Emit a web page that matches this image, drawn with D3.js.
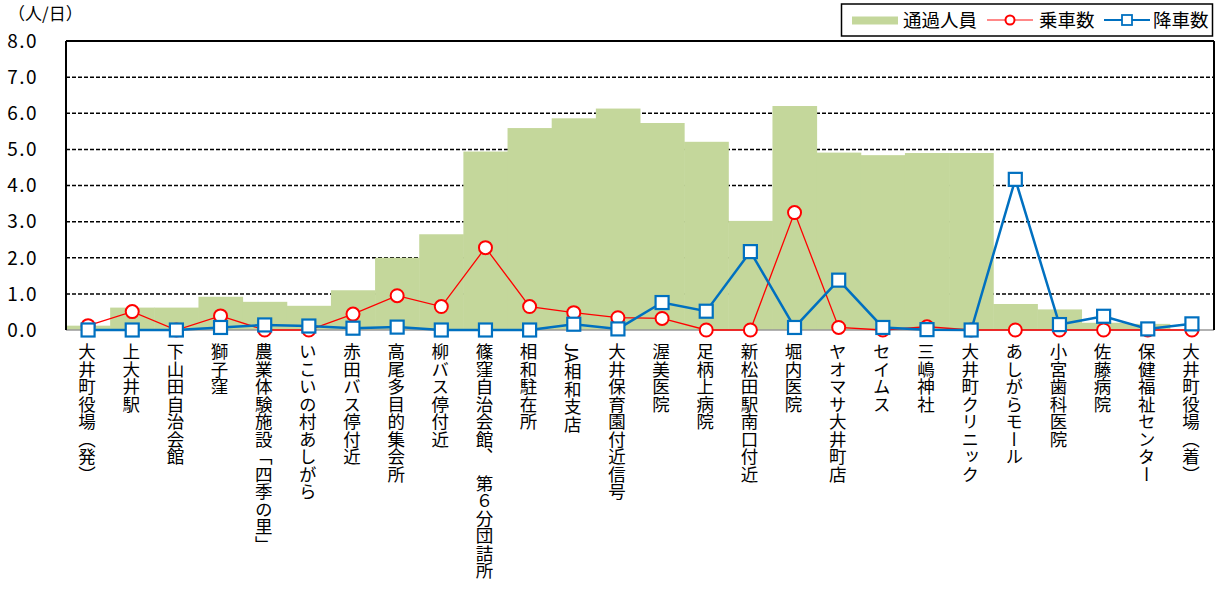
<!DOCTYPE html>
<html><head><meta charset="utf-8">
<script src="https://cdn.jsdelivr.net/npm/d3@7"></script>
<style>
html,body{margin:0;padding:0;background:#fff;}
svg{display:block;font-family:"Noto Sans CJK JP","Noto Sans",sans-serif;}
</style></head>
<body><svg id="c" width="1218" height="592"></svg>
<script>
const categories = ["大井町役場（発）","上大井駅","下山田自治会館","獅子窪","農業体験施設「四季の里」","いこいの村あしがら","赤田バス停付近","高尾多目的集会所","柳バス停付近","篠窪自治会館、　第６分団詰所","相和駐在所","JA相和支店","大井保育園付近信号","渥美医院","足柄上病院","新松田駅南口付近","堀内医院","ヤオマサ大井町店","セイムス","三嶋神社","大井町クリニック","あしがらモール","小宮歯科医院","佐藤病院","保健福祉センター","大井町役場（着）"];
const passengers = [0.12,0.62,0.62,0.92,0.78,0.67,1.1,2.0,2.65,4.94,5.59,5.86,6.13,5.73,5.21,3.02,6.2,4.91,4.84,4.9,4.9,0.72,0.57,0.2,0.17,0];
const boarding   = [0.12,0.51,0,0.39,0,0,0.44,0.95,0.65,2.28,0.65,0.48,0.34,0.32,0,0,3.25,0.07,0,0.09,0,0,0,0,0,0];
const alighting  = [0,0,0,0.07,0.14,0.11,0.05,0.08,0,0,0,0.16,0.03,0.76,0.52,2.17,0.07,1.38,0.07,0.01,0,4.17,0.15,0.38,0.03,0.17];
const yTicks = [0,1,2,3,4,5,6,7,8];
const legendLabels = ["通過人員","乗車数","降車数"];
const unitLabel = "（人/日）";

const GREEN="#C4D79B", RED="#FF0000", BLUE="#0070C0";
const svg = d3.select("#c");
const L=66, R=1214, T=41, B=330;
const x = d3.scaleBand().domain(categories).range([L,R]).padding(0);
const y = d3.scaleLinear().domain([0,8]).range([B,T]);
const cx = d => x(d)+x.bandwidth()/2;

// gridlines
svg.append("g").selectAll("line").data(yTicks.filter(t=>t>0&&t<8)).join("line")
  .attr("x1",L).attr("x2",R).attr("y1",d=>y(d)).attr("y2",d=>y(d))
  .attr("stroke","#000").attr("stroke-width",1.5).attr("stroke-dasharray","4,2");

// bars (area)
svg.append("g").selectAll("rect").data(categories).join("rect")
  .attr("x",d=>x(d)).attr("width",x.bandwidth()+0.5)
  .attr("y",(d,i)=>y(passengers[i])).attr("height",(d,i)=>B-y(passengers[i]))
  .attr("fill",GREEN);

// frame
svg.append("line").attr("x1",L).attr("x2",R).attr("y1",B).attr("y2",B).attr("stroke","#999").attr("stroke-width",1.5);
svg.append("line").attr("x1",L).attr("x2",R).attr("y1",T).attr("y2",T).attr("stroke","#000").attr("stroke-width",2);
svg.append("line").attr("x1",R).attr("x2",R).attr("y1",T).attr("y2",B).attr("stroke","#000").attr("stroke-width",2);
svg.append("line").attr("x1",L).attr("x2",L).attr("y1",T).attr("y2",B).attr("stroke","#000").attr("stroke-width",2);

// y labels
svg.append("g").selectAll("text").data(yTicks).join("text")
  .attr("x",38).attr("y",d=>y(d)).attr("dy","0.36em").attr("text-anchor","end")
  .attr("font-size",19).attr("letter-spacing",1.5).text(d=>d.toFixed(1));
svg.append("text").attr("x",8).attr("y",20).attr("font-size",17).text(unitLabel);

// red line
const line = d3.line().x((d,i)=>cx(categories[i])).y(d=>y(d));
svg.append("path").datum(boarding).attr("d",line).attr("fill","none").attr("stroke",RED).attr("stroke-width",1.3);
svg.append("g").selectAll("circle").data(boarding).join("circle")
  .attr("cx",(d,i)=>cx(categories[i])).attr("cy",d=>y(d)).attr("r",6.5)
  .attr("fill","#fff").attr("stroke",RED).attr("stroke-width",2);
// blue line
svg.append("path").datum(alighting).attr("d",line).attr("fill","none").attr("stroke",BLUE).attr("stroke-width",2.5);
svg.append("g").selectAll("rect").data(alighting).join("rect")
  .attr("x",(d,i)=>cx(categories[i])-6.5).attr("y",d=>y(d)-6.5).attr("width",13).attr("height",13)
  .attr("fill","#fff").attr("stroke",BLUE).attr("stroke-width",2.2);

// x labels (vertical)
svg.append("g").selectAll("text").data(categories).join("text")
  .attr("x",d=>cx(d)-1).attr("y",343)
  .attr("font-size",17.5)
  .style("writing-mode","vertical-rl").style("text-orientation","mixed")
  .text(d=>d);

// legend
const lg = svg.append("g");
lg.append("rect").attr("x",841.5).attr("y",4).attr("width",371).attr("height",32).attr("fill","#fff").attr("stroke","#000").attr("stroke-width",1.5);
lg.append("rect").attr("x",852).attr("y",16.5).attr("width",46).attr("height",8).attr("fill",GREEN);
lg.append("text").attr("x",903).attr("y",20).attr("dy","0.36em").attr("font-size",18.5).text(legendLabels[0]);
lg.append("line").attr("x1",987).attr("x2",1033).attr("y1",20).attr("y2",20).attr("stroke","#FF6060").attr("stroke-width",1.5);
lg.append("circle").attr("cx",1010).attr("cy",20).attr("r",4.5).attr("fill","#fff").attr("stroke",RED).attr("stroke-width",2);
lg.append("text").attr("x",1039).attr("y",20).attr("dy","0.36em").attr("font-size",18.5).text(legendLabels[1]);
lg.append("line").attr("x1",1104).attr("x2",1150).attr("y1",20).attr("y2",20).attr("stroke",BLUE).attr("stroke-width",2);
lg.append("rect").attr("x",1122).attr("y",15).attr("width",10).attr("height",10).attr("fill","#fff").attr("stroke",BLUE).attr("stroke-width",1.8);
lg.append("text").attr("x",1153).attr("y",20).attr("dy","0.36em").attr("font-size",18.5).text(legendLabels[2]);
</script></body></html>
